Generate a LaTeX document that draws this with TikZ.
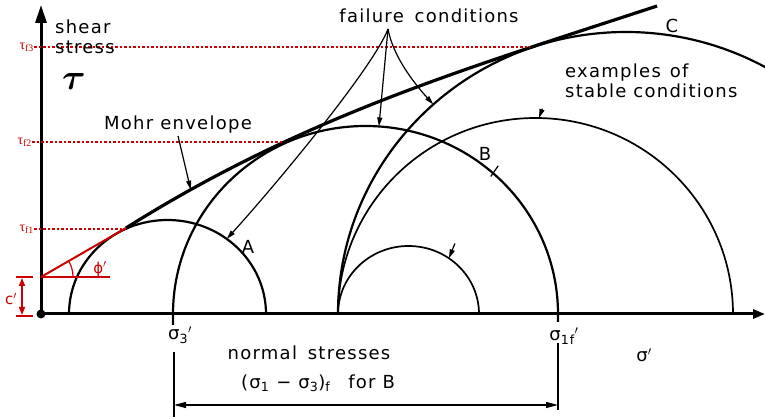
\documentclass[tikz,border=0pt]{standalone}
\usepackage{amsmath}
\usepackage{graphicx}
\usepackage{fontspec}
\usepackage{tikz}
\usetikzlibrary{arrows.meta, calc, angles}
\newfontfamily\letterfont[LetterSpace=7]{DejaVu Sans}
\newfontfamily\plainsans{DejaVu Sans}
\newfontfamily\redserif{Liberation Serif}
\colorlet{darkred}{red!80!black}
\newcommand{\prm}{$^{\prime}$}

\tikzset{
    lettering/.style={font=\letterfont\fontsize{18}{20}\selectfont, inner sep=0pt},
    taulabel/.style={darkred, font=\redserif\fontsize{14}{16}\selectfont, inner sep=0pt},
    redlabel/.style={darkred, font=\plainsans\fontsize{15}{16}\selectfont, inner sep=0pt},
    axis/.style={line width=3pt},
    failcircle/.style={line width=2.2pt},
    stablecircle/.style={line width=1.7pt},
    leader/.style={line width=1.2pt, -{Triangle[length=9pt,width=5pt]}},
    tauline/.style={darkred, line width=1.2pt, dash pattern=on 2.5pt off 2pt},
    redline/.style={darkred, line width=2pt},
    dimline/.style={line width=1.2pt}
}

\begin{document}
\begin{tikzpicture}[x=1pt, y=1pt]
        \useasboundingbox (-41,-105) rectangle (724,314);
        % Draw the axes
            \coordinate (O) at (0,0);
            \draw[axis, -{Triangle[length=18pt,width=11pt]}] (O) -- (0,309) coordinate (tauax);
            \draw[axis, -{Triangle[length=12pt,width=9pt]}] (O) -- (724,0) coordinate (sigax);
            \fill (O) circle (4.5);
        % Circle centres
            \coordinate (cA) at (126.5,0);
            \coordinate (cB) at (324.5,0);
            \coordinate (cC) at (585,0);
            \coordinate (cM) at (494.5,0);
            \coordinate (cS) at (367.5,0);
        % Draw failure circles A, B, C
            \draw[failcircle] (28,0) arc[start angle=180, end angle=0, x radius=98.5, y radius=94];
            \draw[failcircle] (132,-11) -- (132,0) arc[start angle=180, end angle=0, x radius=192.5, y radius=188] -- (517,-8);
            \draw[failcircle] (297,0) arc[start angle=180, end angle=61, x radius=288, y radius=282];
        % Draw stable circles
            \draw[stablecircle] (297,0) arc[start angle=180, end angle=0, x radius=197.5, y radius=196];
            \draw[stablecircle] (297,0) arc[start angle=180, end angle=0, x radius=70.5, y radius=68];
        % Draw the Mohr envelope
            \draw[line width=3.2pt] (85,86) coordinate (tA)
                .. controls (266,200) and (436,248.6) .. (616,308) coordinate (envend)
                coordinate[pos=0.12] (mohrtip);
        % Red c' and phi' construction
            \coordinate (cc) at (0,37);
            \coordinate (hz) at (69,37);
            \draw[redline] (cc) -- (tA);
            \draw[redline] (cc) -- (hz);
            \pic[draw=darkred, line width=1.2pt, angle radius=32pt] {angle = hz--cc--tA};
            \node[redlabel] (phi) at (59,45) {ϕ\prm};
            \draw[darkred, line width=1.2pt] (-25,37) -- (-8,37);
            \draw[darkred, line width=1.2pt] (-25,-2) -- (-8,-2);
            \draw[darkred, line width=1.6pt, {Triangle[length=8pt,width=6pt]}-{Triangle[length=8pt,width=6pt]}]
                (-19,36) -- (-19,-1);
            \node[redlabel] (cdash) at (-30,15) {c\prm};
        % Shear stress levels at failure
            \node[taulabel, anchor=east] (tf3) at (-7,267) {τ\textsubscript{f3}};
            \node[taulabel, anchor=east] (tf2) at (-9,172) {τ\textsubscript{f2}};
            \node[taulabel, anchor=east] (tf1) at (-7,85) {τ\textsubscript{f1}};
            \draw[tauline] (tf3.east) -- (489,267);
            \draw[tauline] (tf2.east) -- (242,172);
            \draw[tauline] (tf1.east) -- (tA |- tf1.east);
        % Axis texts
            \node[lettering, anchor=north west, align=left] (shear) at (14,294) {shear\\stress};
            \node (tau) at (33,232) {\scalebox{3.6}{$\boldsymbol{\tau}$}};
            \node[lettering] (s3) at (139,-21) {σ\textsubscript{3}\prm};
            \node[lettering] (s1f) at (523,-22) {σ\textsubscript{1f}\prm};
            \node[lettering] (sig) at (603,-41) {σ\prm};
            \node[lettering] (normal) at (268,-39) {normal\hspace{0.6em}stresses};
            \node[lettering] (diff) at (277,-69) {(σ\textsubscript{1} − σ\textsubscript{3})\textsubscript{f}\hspace{1em}for B};
        % Dimension for B
            \draw[dimline] (133,-38) coordinate (d3top) -- (133,-103) coordinate (d3bot);
            \draw[dimline] (517,-29) coordinate (d1top) -- (517,-96) coordinate (d1bot);
            \draw[dimline, {Triangle[length=12pt,width=6pt]}-{Triangle[length=12pt,width=6pt]}]
                (d3top |- 0,-91) -- (d1top |- 0,-91);
        % Labels and leaders
            \node[lettering] (mohr) at (137,189) {Mohr envelope};
            \draw[leader] ([yshift=-2pt]mohr.south) -- (mohrtip);
            \node[lettering] (fail) at (388,298) {failure\hspace{0.6em}conditions};
            \coordinate (fork) at (347,285);
            \draw[leader] (fork) .. controls (333,248) and (240,135) .. ($(cA)+(53:98.5 and 94)$);
            \draw[leader] (fork) -- ($(cB)+(86:192.5 and 188)$);
            \draw[leader] (fork) .. controls (352,258) and (372,232) .. ($(cC)+(132:288 and 282)$);
            \node[lettering] (labA) at (207,67) {A};
            \node[lettering] (labB) at (444,160) {B};
            \node[lettering] (labC) at (631,288) {C};
            \node[lettering, anchor=north west, align=left] (stable) at (524,250) {examples\hspace{0.5em}of\\stable conditions};
        % Stubs of the stable leaders
            \coordinate (tM) at ($(cM)+(89:197.5 and 196)$);
            \coordinate (tS) at ($(cS)+(55:70.5 and 68)$);
            \coordinate (tB) at ($(cB)+(48.5:192.5 and 188)$);
            \draw[leader] ($(tM)+(70:10)$) -- (tM);
            \draw[leader] ($(tS)+(68:16)$) -- (tS);
            \draw[line width=1.2pt] ($(tB)+(235:4)$) -- ($(tB)+(55:9)$);
\end{tikzpicture}
\end{document}
